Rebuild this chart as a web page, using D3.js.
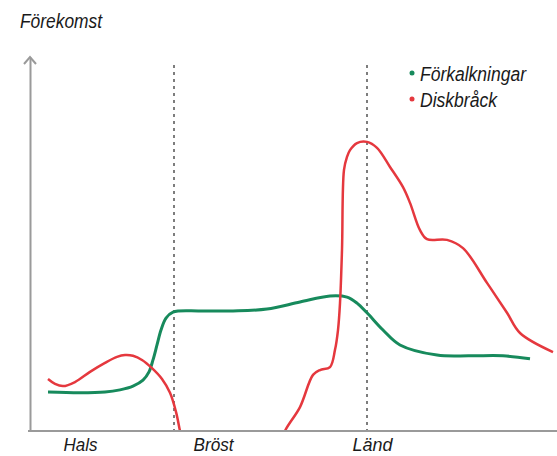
<!DOCTYPE html>
<html>
<head>
<meta charset="utf-8">
<script src="https://cdn.jsdelivr.net/npm/d3@7"></script>
<style>
  body { margin: 0; background: #fff; }
  text { font-family: "Liberation Sans Narrow", "Liberation Sans", Arial, sans-serif; font-style: italic; fill: #1a1a1a; }
</style>
</head>
<body>
<div id="chart"></div>
<script>
(function(){
    // position along the spine (x) and occurrence (y, 0-100)
    const greenX = [18, 50, 75, 90, 103, 113, 119, 123, 127, 131, 136, 143, 170, 203, 237, 270, 300, 317, 327, 337, 353, 370, 407, 440, 473, 500];
    const greenY = [10.4, 10.2, 10.4, 11.0, 12.0, 13.6, 15.8, 19.0, 23.0, 27.0, 30.2, 31.8, 32.1, 32.1, 32.6, 34.5, 36.1, 35.8, 34.2, 31.6, 27.0, 23.0, 20.3, 20.1, 20.1, 19.3];

    const red1X = [18, 25, 33, 45, 60, 75, 87, 95, 103, 112, 122, 132, 140, 146, 150, 152];
    const red1Y = [13.9, 12.6, 12.0, 13.1, 15.8, 18.2, 19.8, 20.3, 20.1, 19.0, 16.8, 13.9, 10.2, 5.1, 0, -2.4];

    const red2X = [253, 255, 270, 283, 290, 300, 305, 308, 310, 312, 314, 317, 320, 327, 337, 347, 360, 373, 380, 390, 397, 417, 433, 457, 477, 490, 523];
    const red2Y = [-2.4, 0, 6.4, 15.0, 16.3, 17.1, 21.7, 27.0, 34.2, 48.4, 69.8, 73.3, 75.1, 77.0, 77.3, 75.7, 70.6, 65.2, 61.0, 53.7, 51.3, 51.1, 48.9, 39.6, 31.6, 26.2, 21.1];

    const regionLines = [144, 337];
    const regionLabels = ['Hals', 'Bröst', 'Länd'];
    const regionLabelPos = [50, 183, 342];
    const regionLabelWidth = [34, 40, 40];

    const seriesNames = ['Förkalkningar', 'Diskbråck'];
    const seriesColors = ['#178a5c', '#e5383e'];
    const legendWidth = [106, 77];

    const width = 557, height = 456;
    const left = 30, bottom = 431, top = 57;

    const svg = d3.select('#chart')
        .append('svg')
        .attr('width', width)
        .attr('height', height);

    const x = d3.scaleLinear().domain([0, 527]).range([left, width]);
    const y = d3.scaleLinear().domain([0, 100]).range([bottom, top]);

    // dashed region boundaries
    svg.selectAll('.region')
        .data(regionLines)
        .enter()
        .append('line')
        .attr('x1', d => x(d))
        .attr('x2', d => x(d))
        .attr('y1', 65)
        .attr('y2', bottom)
        .attr('stroke', '#7d7d7d')
        .attr('stroke-width', 2)
        .attr('stroke-dasharray', '3,4');

    svg.append('clipPath').attr('id', 'plotclip')
        .append('rect')
        .attr('x', left).attr('y', 0)
        .attr('width', width - left).attr('height', bottom - 1);

    const line = d3.line()
        .x(d => x(d[0]))
        .y(d => y(d[1]))
        .curve(d3.curveCatmullRom.alpha(0.5));

    const zip = (a, b) => a.map((v, i) => [v, b[i]]);

    svg.append('path')
        .datum(zip(greenX, greenY))
        .attr('d', line)
        .attr('fill', 'none')
        .attr('stroke', seriesColors[0])
        .attr('stroke-width', 3);

    [zip(red1X, red1Y), zip(red2X, red2Y)].forEach(seg => {
        svg.append('path')
            .datum(seg)
            .attr('clip-path', 'url(#plotclip)')
            .attr('d', line)
            .attr('fill', 'none')
            .attr('stroke', seriesColors[1])
            .attr('stroke-width', 2.5);
    });

    // axes
    const yAxis = svg.append('g')
        .attr('transform', `translate(${left},0)`)
        .call(d3.axisLeft(y).tickValues([]).tickSizeOuter(0));
    yAxis.select('.domain').attr('stroke', '#9a9a9a').attr('stroke-width', 2);

    svg.append('path')
        .attr('d', `M${left - 6},${top + 7}L${left},${top}L${left + 6},${top + 7}`)
        .attr('fill', 'none')
        .attr('stroke', '#9a9a9a')
        .attr('stroke-width', 2);

    const xAxis = svg.append('g')
        .attr('transform', `translate(0,${bottom})`)
        .call(d3.axisBottom(x)
            .tickValues(regionLabelPos)
            .tickSize(0)
            .tickPadding(0)
            .tickFormat((d, i) => regionLabels[i]));
    xAxis.select('.domain')
        .attr('d', `M${left - 2},0H${width}`)
        .attr('stroke', '#9a9a9a').attr('stroke-width', 2);
    xAxis.selectAll('text')
        .attr('y', 20)
        .attr('dy', null)
        .attr('font-size', 18)
        .attr('font-family', null)
        .attr('textLength', (d, i) => regionLabelWidth[i])
        .attr('lengthAdjust', 'spacingAndGlyphs');

    // y label
    svg.append('text')
        .attr('x', 20)
        .attr('y', 28)
        .attr('font-size', 20)
        .attr('textLength', 82)
        .attr('lengthAdjust', 'spacingAndGlyphs')
        .text('Förekomst');

    // legend
    const legend = svg.selectAll('.legend')
        .data(seriesNames)
        .enter()
        .append('g')
        .attr('transform', (d, i) => `translate(412,${73 + i * 26})`);
    legend.append('circle')
        .attr('r', 2.5)
        .attr('fill', (d, i) => seriesColors[i]);
    legend.append('text')
        .attr('x', 8)
        .attr('y', 8)
        .attr('font-size', 20)
        .attr('textLength', (d, i) => legendWidth[i])
        .attr('lengthAdjust', 'spacingAndGlyphs')
        .text(d => d);
})();
</script>
</body>
</html>
